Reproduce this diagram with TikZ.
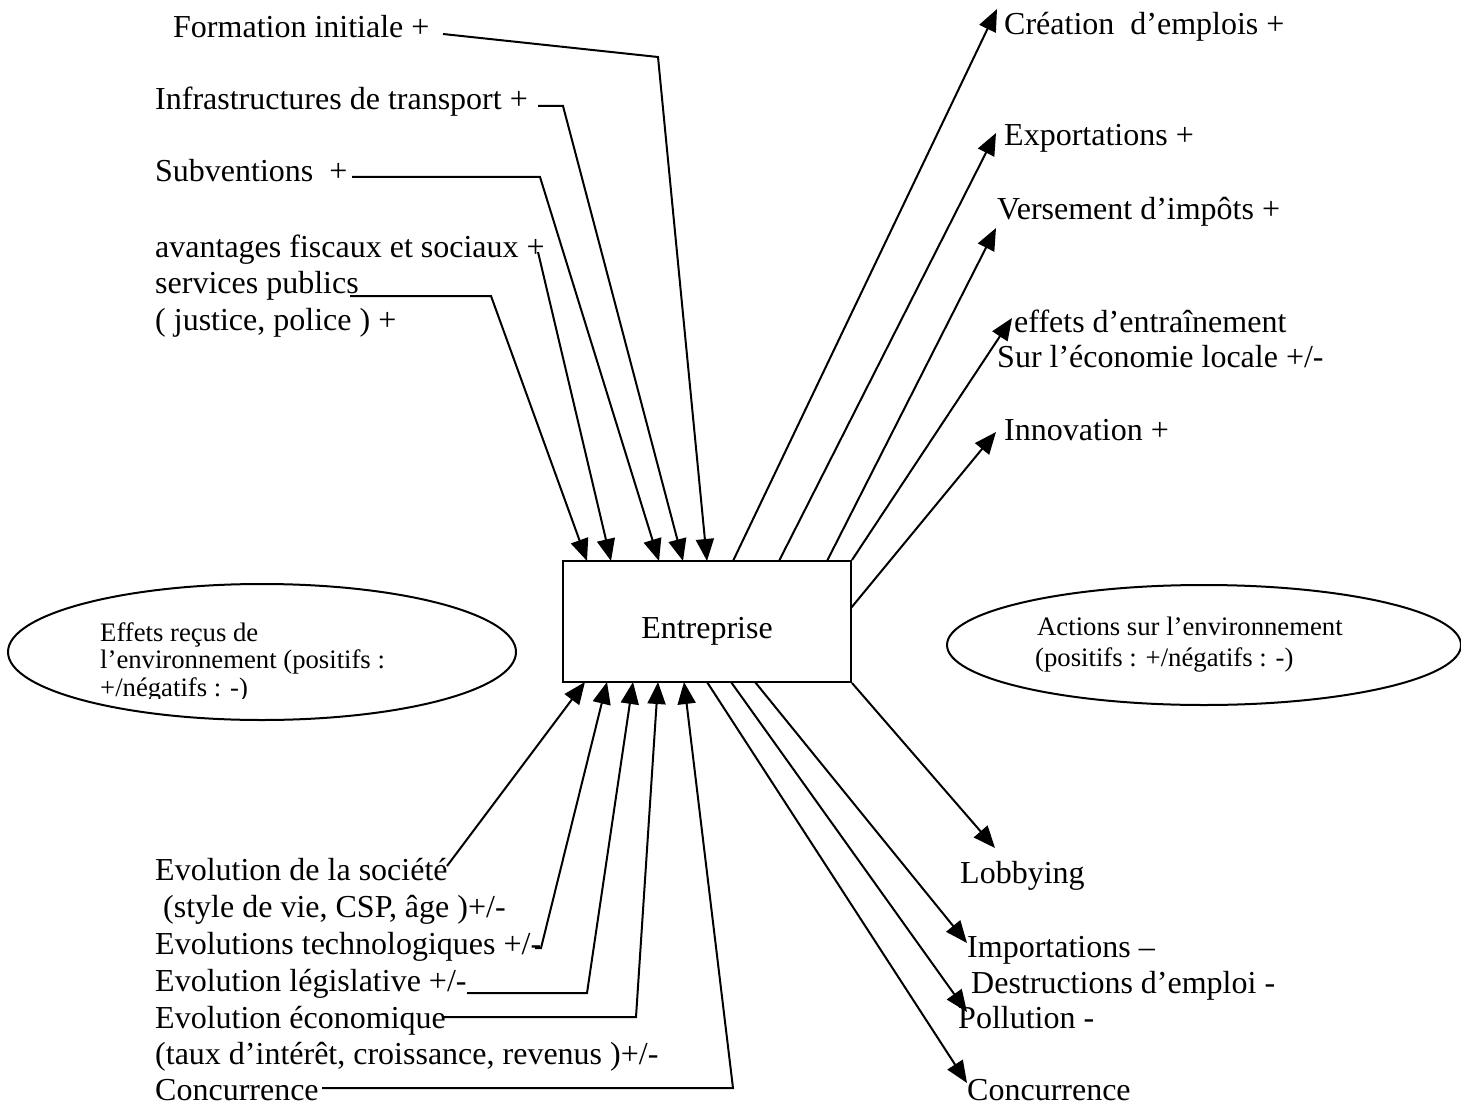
\documentclass[tikz,border=0pt]{standalone}
\usepackage{fontspec}
\setmainfont{Liberation Serif}
\usetikzlibrary{arrows.meta,shapes.geometric}
\begin{document}
\begin{tikzpicture}[x=1pt,y=-1pt,
 lbl/.style={anchor=base west,inner sep=0pt,font=\fontsize{32}{36}\selectfont},
 sml/.style={anchor=base west,inner sep=0pt,font=\fontsize{26.7}{31}\selectfont},
 arr/.style={line width=2pt,-{Triangle[length=22pt,width=18pt]}},
 ellbox/.style={draw,ellipse,line width=2pt,inner sep=0pt}]
\fill[white] (0,0) rectangle (1461,1107);
\useasboundingbox (0,0) rectangle (1461,1107);

% central box
\node[draw,line width=2pt,minimum width=288pt,minimum height=121pt,inner sep=0pt] (box) at (707,621.5) {};
\node[lbl,anchor=base] (ent) at (707,638) {Entreprise};

% ellipses
\node[ellbox,minimum width=508pt,minimum height=136pt] (eL) at (262,652) {};
\node[ellbox,minimum width=514pt,minimum height=120pt] (eR) at (1204,645) {};
\begin{scope}
\clip (0,0) rectangle (1461,698);
\node[sml] (eL1) at (100,641) {Effets reçus de};
\node[sml] (eL2) at (100,668) {l’environnement (positifs :};
\node[sml] (eL3) at (100,696) {+/négatifs : -)};
\end{scope}
\node[sml] (eR1) at (1037,635) {Actions sur l’environnement};
\node[sml] (eR2) at (1035,666) {(positifs : +/négatifs : -)};

% top-left labels
\node[lbl] (form) at (173,38) {Formation initiale +};
\node[lbl] (infra) at (155,110) {Infrastructures de transport +};
\node[lbl] (subv) at (155,182) {Subventions\ \ +};
\node[lbl] (avant) at (155,258) {avantages fiscaux et sociaux +};
\node[lbl] (serv) at (155,294) {services publics};
\node[lbl] (just) at (155,330) {( justice, police ) +};

% top-right labels
\node[lbl] (crea) at (1004,35) {Création\ \ d’emplois +};
\node[lbl] (expo) at (1004,146) {Exportations +};
\node[lbl] (vers) at (997,220) {Versement d’impôts +};
\node[lbl] (eff1) at (1014,332) {effets d’entraînement};
\node[lbl] (eff2) at (997,367) {Sur l’économie locale +/-};
\node[lbl] (inno) at (1004,440) {Innovation +};

% bottom-left labels
\node[lbl] (soc1) at (155,880) {Evolution de la société};
\node[lbl] (soc2) at (155,917) {\ (style de vie, CSP, âge )+/-};
\node[lbl] (tech) at (155,954) {Evolutions technologiques +/-};
\node[lbl] (legi) at (155,991) {Evolution législative +/-};
\node[lbl] (eco1) at (155,1028) {Evolution économique};
\node[lbl] (eco2) at (155,1064) {(taux d’intérêt, croissance, revenus )+/-};
\node[lbl] (concL) at (155,1100) {Concurrence};

% bottom-right labels
\node[lbl] (lobb) at (960,883) {Lobbying};
\node[lbl] (impo) at (967,957) {Importations –};
\node[lbl] (dest) at (963,993) {\ Destructions d’emploi -};
\node[lbl] (poll) at (958,1028) {Pollution -};
\node[lbl] (concR) at (967,1100) {Concurrence};

% coordinates: box contact points
\coordinate (t1) at (587,561);
\coordinate (t2) at (611,561);
\coordinate (t3) at (659,561);
\coordinate (t4) at (683,561);
\coordinate (t5) at (707,561);
\coordinate (o1) at (733,561);
\coordinate (o2) at (779,561);
\coordinate (o3) at (827,561);
\coordinate (o4) at (box.north east);
\coordinate (o5) at (851,608);
\coordinate (b1) at (585,682);
\coordinate (b2) at (607,682);
\coordinate (b3) at (633,682);
\coordinate (b4) at (658,682);
\coordinate (b5) at (684,682);
\coordinate (d1) at (707,682);
\coordinate (d2) at (731,682);
\coordinate (d3) at (755,682);
\coordinate (d4) at (box.south east);

% connector free ends / corners
\coordinate (formS) at (443,34);   \coordinate (formC) at (658,57);
\coordinate (infraS) at (538,106); \coordinate (infraC) at (563,106);
\coordinate (subvS) at (352,177);  \coordinate (subvC) at (540,177);
\coordinate (avantS) at (538,252);
\coordinate (servS) at (350,296);  \coordinate (servC) at (491,296);

\coordinate (creaT) at (997,9);
\coordinate (expoT) at (996,133);
\coordinate (versT) at (996,228);
\coordinate (effT) at (1012,318);
\coordinate (innoT) at (996,432);

\coordinate (socS) at (447,866);
\coordinate (techS) at (535,948); \coordinate (techC) at (541,948);
\coordinate (legiS) at (467,993); \coordinate (legiC) at (587,993);
\coordinate (ecoS) at (443,1017); \coordinate (ecoC) at (636,1017);
\coordinate (concS) at (322,1088); \coordinate (concC) at (733,1088);

\coordinate (lobbT) at (995,848);
\coordinate (impoT) at (967,943);
\coordinate (pollT) at (967,1012);
\coordinate (concT) at (967,1083);

% incoming, top
\draw[arr] (formS) -- (formC) -- (t5);
\draw[arr] (infraS) -- (infraC) -- (t4);
\draw[arr] (subvS) -- (subvC) -- (t3);
\draw[arr] (avantS) -- (t2);
\draw[arr] (servS) -- (servC) -- (t1);

% outgoing, top
\draw[arr] (o1) -- (creaT);
\draw[arr] (o2) -- (expoT);
\draw[arr] (o3) -- (versT);
\draw[arr] (o4) -- (effT);
\draw[arr] (o5) -- (innoT);

% incoming, bottom
\draw[arr] (socS) -- (b1);
\draw[arr] (techS) -- (techC) -- (b2);
\draw[arr] (legiS) -- (legiC) -- (b3);
\draw[arr] (ecoS) -- (ecoC) -- (b4);
\draw[arr] (concS) -- (concC) -- (b5);

% outgoing, bottom
\draw[arr] (d4) -- (lobbT);
\draw[arr] (d3) -- (impoT);
\draw[arr] (d2) -- (pollT);
\draw[arr] (d1) -- (concT);
\end{tikzpicture}
\end{document}
